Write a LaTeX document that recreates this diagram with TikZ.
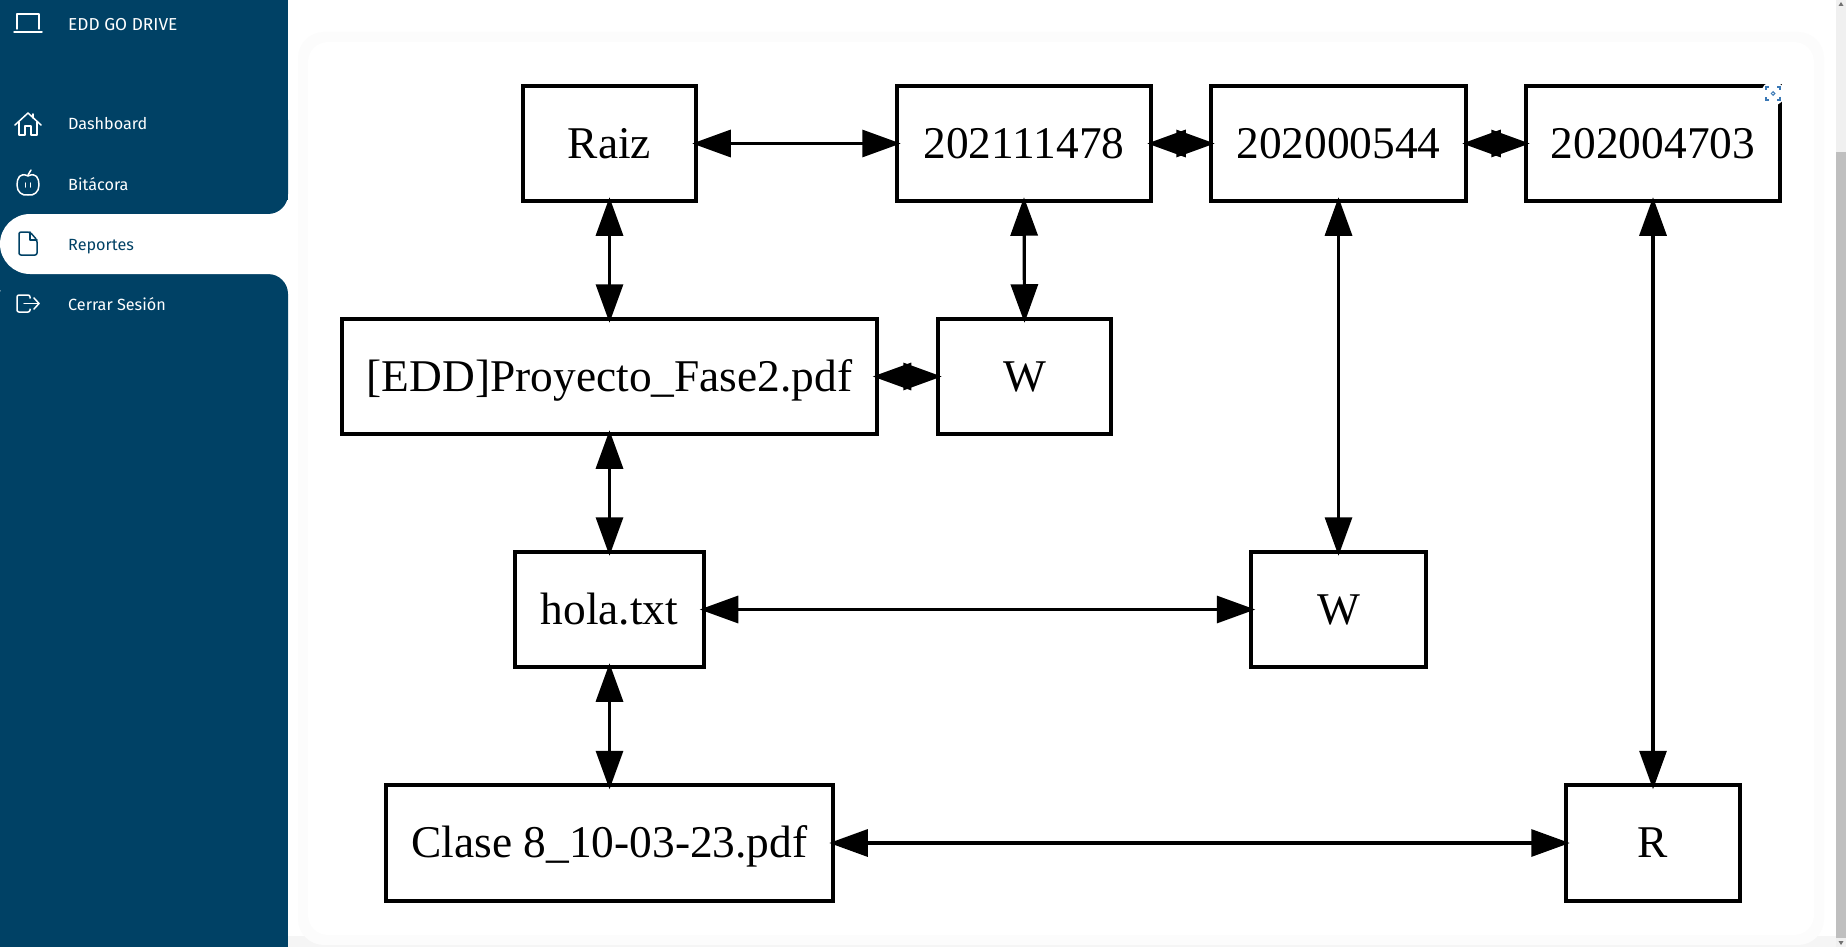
\documentclass[tikz,border=0pt]{standalone}
\usepackage{fontspec}
\setmainfont{Liberation Serif}
\newfontfamily\menufont{Fira Sans}
\usetikzlibrary{arrows.meta}
\definecolor{barra}{HTML}{004165}
\definecolor{captura}{HTML}{3A78B5}
\tikzset{
  caja/.style={draw=black,line width=3.6pt,fill=white,inner sep=0pt,outer sep=0pt,minimum height=115.5pt,text height=34pt,text depth=4.6pt,font=\fontsize{45.4}{50}\selectfont},
  doble/.style={line width=3.2pt,shorten <=-4pt,shorten >=-4pt,{Triangle[length=38.5pt,width=27pt]}-{Triangle[length=38.5pt,width=27pt]}},
  menu/.style={anchor=base west,inner sep=0pt,text=white,font=\menufont\fontsize{16.2}{18}\selectfont},
  icono/.style={draw=white,line width=1.5pt,line join=round,line cap=round}
}
\begin{document}
\begin{tikzpicture}[x=1pt,y=-1pt]
\useasboundingbox (0,0) rectangle (1846,947);
% fondo
\fill[white] (0,0) rectangle (1846,947);
\fill[black!4] (288,936) rectangle (1836,947);
\fill[black!1,rounded corners=26pt] (298,32) rectangle (1824,945);
\fill[white,rounded corners=20pt] (308,42) rectangle (1814,935);
\fill[black!6] (1836,0) rectangle (1846,947);
\fill[black!25] (1836,152) rectangle (1846,938);
\fill[black!55] (1838.5,6)--(1841,2)--(1843.5,6)--cycle;
\fill[black!55] (1838.5,941)--(1841,945)--(1843.5,941)--cycle;
% barra lateral
\fill[barra] (0,0) rectangle (288,200);
\fill[barra,rounded corners=20pt] (0,100) rectangle (288,214);
\fill[barra] (0,200) rectangle (40,290);
\fill[barra,rounded corners=20pt] (0,274) rectangle (288,400);
\fill[barra] (0,300) rectangle (288,947);
\fill[white,rounded corners=30pt] (288,214)--(0,214)--(0,274)--(288,274);
\node[menu,font=\menufont\fontsize{17.3}{18}\selectfont] (edd) at (68,30.5) {EDD GO DRIVE};
\node[menu] (dashboard) at (68,130) {Dashboard};
\node[menu] (bitacora) at (68,190) {Bitácora};
\node[menu,text=barra] (reportes) at (68,250) {Reportes};
\node[menu] (cerrar) at (68,310.5) {Cerrar Sesión};
% iconos
\draw[icono] (17,29)--(17,14)--(39,14)--(39,29);
\draw[icono] (14,32)--(42,32);
\draw[icono] (15,125)--(28,113)--(41,125);
\draw[icono] (19,122)--(19,135)--(25,135)--(25,126)--(31,126)--(31,135)--(37,135)--(37,122);
\draw[icono] (33,114)--(33,118);
\draw[icono] (28,176) .. controls (20,172) and (17,178) .. (17,185) .. controls (17,192) and (22,196) .. (28,195) .. controls (34,196) and (39,192) .. (39,185) .. controls (39,178) and (36,172) .. (28,176);
\draw[icono] (28,175)--(31,170);
\draw[icono] (25.5,183)--(25.5,187);
\draw[icono] (30.5,183)--(30.5,187);
\draw[icono,draw=barra,rounded corners=2pt] (19,232)--(30,232)--(37,240)--(37,255)--(19,255)--cycle;
\draw[icono,draw=barra] (30,232)--(30,240)--(37,240);
\draw[icono,rounded corners=2pt] (30,298)--(30,295)--(17,295)--(17,312)--(30,312)--(30,309);
\draw[icono] (24,303.5)--(39,303.5);
\draw[icono] (34,298)--(39,303.5)--(34,309);
% cajas
\node[caja,minimum width=173.5pt] (raiz) at (609.5,143.5) {Raiz};
\node[caja,minimum width=254.5pt] (u1) at (1024,143.5) {202111478};
\node[caja,minimum width=255.5pt] (u2) at (1338.5,143.5) {202000544};
\node[caja,minimum width=254.5pt] (u3) at (1653,143.5) {202004703};
\node[caja,minimum width=534.5pt] (proyecto) at (609.5,376.5) {[EDD]Proyecto\_Fase2.pdf};
\node[caja,minimum width=173.5pt] (w1) at (1024.5,376.5) {W};
\node[caja,minimum width=188.5pt] (hola) at (609.5,609.5) {hola.txt};
\node[caja,minimum width=174.5pt] (w2) at (1338.5,609.5) {W};
\node[caja,minimum width=447.5pt] (clase) at (609.5,843) {Clase 8\_10-03-23.pdf};
\node[caja,minimum width=174.5pt] (r) at (1653,843) {R};
% flechas
\draw[doble] (raiz.east)--(u1.west);
\draw[doble] (u1.east)--(u2.west);
\draw[doble] (u2.east)--(u3.west);
\draw[doble] (raiz.south)--(proyecto.north);
\draw[doble] (u1.south)--(w1.north);
\draw[doble] (proyecto.east)--(w1.west);
\draw[doble] (proyecto.south)--(hola.north);
\draw[doble] (hola.east)--(w2.west);
\draw[doble] (u2.south)--(w2.north);
\draw[doble] (hola.south)--(clase.north);
\draw[doble] (clase.east)--(r.west);
\draw[doble] (u3.south)--(r.north);
% boton captura
\fill[white] (1773,93.5) circle (12pt);
\draw[line width=1.2pt,draw=captura] (1766,90)--(1766,87)--(1769,87) (1777,87)--(1780,87)--(1780,90) (1780,97)--(1780,100)--(1777,100) (1769,100)--(1766,100)--(1766,97);
\draw[line width=1pt,draw=captura] (1773,93.5) circle (1.8pt);
\end{tikzpicture}
\end{document}
